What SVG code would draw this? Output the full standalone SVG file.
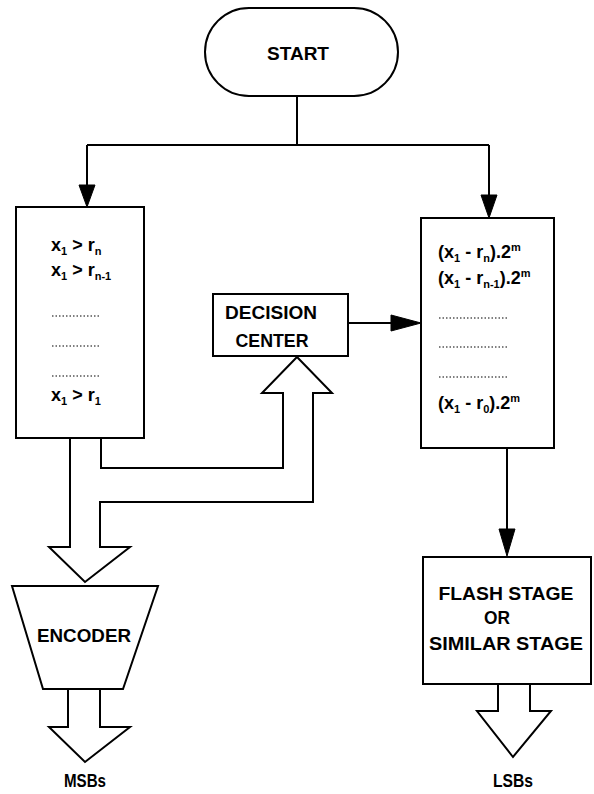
<svg xmlns="http://www.w3.org/2000/svg" width="594" height="794" viewBox="0 0 594 794">
<style>
.s{fill:none;stroke:#000;stroke-width:2;stroke-linejoin:miter}
.b{fill:#fff;stroke:#000;stroke-width:2}
.t{font-family:"Liberation Sans","DejaVu Sans",sans-serif;font-weight:bold;font-size:19px;fill:#000}
.m{font-family:"Liberation Sans","DejaVu Sans",sans-serif;font-weight:bold;font-size:18px;fill:#000}
.sub{font-size:11px}
.d{stroke:#000;stroke-width:1.2;stroke-dasharray:1.5 2}
.ah{fill:#000;stroke:#000;stroke-width:1}
</style>
<g id="connectors">
<path class="s" d="M297,96 V145 M87,145 H489 M87,145 V186 M489,145 V196"/>
<polygon class="ah" points="79,185 95,185 87,207"/>
<polygon class="ah" points="481,195 497,195 489,218"/>
<path class="s" d="M348,323 H394"/>
<polygon class="ah" points="391,315 421,323 391,331"/>
<path class="s" d="M507,448 V530"/>
<polygon class="ah" points="499,529 515,529 507,556"/>
<path class="s" d="M70,438 V547 H49 L85,582 L130,547 H100 V502 H313 V393 H332 L297,357 L262,393 H283 V468 H101 V438"/>
<path class="s" d="M68,689 V727 H49 L85,762 L130,727 H100 V689"/>
<path class="s" d="M498,684 V711 H477 L513,757 L551,711 H530 V684"/>
</g>
<g id="start">
<rect class="b" x="205" y="8" width="193" height="88" rx="44" ry="44"/>
<text class="t" x="298" y="60" text-anchor="middle" textLength="62" lengthAdjust="spacingAndGlyphs">START</text>
</g>
<g id="comparators">
<rect class="b" x="16" y="207" width="128" height="231"/>
<text class="m" x="51" y="251">x<tspan class="sub" dy="4">1</tspan><tspan dy="-4"> &gt; r</tspan><tspan class="sub" dy="4">n</tspan></text>
<text class="m" x="51" y="276">x<tspan class="sub" dy="4">1</tspan><tspan dy="-4"> &gt; r</tspan><tspan class="sub" dy="4">n-1</tspan></text>
<line class="d" x1="52" y1="316" x2="100" y2="316"/>
<line class="d" x1="52" y1="346" x2="100" y2="346"/>
<line class="d" x1="52" y1="376" x2="100" y2="376"/>
<text class="m" x="51" y="401">x<tspan class="sub" dy="4">1</tspan><tspan dy="-4"> &gt; r</tspan><tspan class="sub" dy="4">1</tspan></text>
</g>
<g id="decision">
<rect class="b" x="213" y="294" width="135" height="62"/>
<text class="t" x="271" y="319" text-anchor="middle" textLength="92" lengthAdjust="spacingAndGlyphs">DECISION</text>
<text class="t" x="272" y="347" text-anchor="middle" textLength="73" lengthAdjust="spacingAndGlyphs">CENTER</text>
</g>
<g id="residues">
<rect class="b" x="421" y="218" width="133" height="230"/>
<text class="m" x="438" y="258">(x<tspan class="sub" dy="4">1</tspan><tspan dy="-4"> - r</tspan><tspan class="sub" dy="4">n</tspan><tspan dy="-4">).2</tspan><tspan class="sub" dy="-7">m</tspan></text>
<text class="m" x="438" y="284">(x<tspan class="sub" dy="4">1</tspan><tspan dy="-4"> - r</tspan><tspan class="sub" dy="4">n-1</tspan><tspan dy="-4">).2</tspan><tspan class="sub" dy="-7">m</tspan></text>
<line class="d" x1="439" y1="318" x2="508" y2="318"/>
<line class="d" x1="439" y1="347" x2="508" y2="347"/>
<line class="d" x1="439" y1="377" x2="508" y2="377"/>
<text class="m" x="438" y="409">(x<tspan class="sub" dy="4">1</tspan><tspan dy="-4"> - r</tspan><tspan class="sub" dy="4">0</tspan><tspan dy="-4">).2</tspan><tspan class="sub" dy="-7">m</tspan></text>
</g>
<g id="encoder">
<polygon class="b" points="12,586 158,586 123,689 43,689"/>
<text class="t" x="84" y="642" text-anchor="middle" textLength="94" lengthAdjust="spacingAndGlyphs">ENCODER</text>
</g>
<g id="flash">
<rect class="b" x="423" y="557" width="168" height="127"/>
<text class="t" x="506" y="600" text-anchor="middle" textLength="135" lengthAdjust="spacingAndGlyphs">FLASH STAGE</text>
<text class="t" x="497" y="624" text-anchor="middle" textLength="26" lengthAdjust="spacingAndGlyphs">OR</text>
<text class="t" x="506" y="650" text-anchor="middle" textLength="154" lengthAdjust="spacingAndGlyphs">SIMILAR STAGE</text>
</g>
<g id="msbs">
<text class="t" x="85" y="787" text-anchor="middle" textLength="42" lengthAdjust="spacingAndGlyphs">MSBs</text>
</g>
<g id="lsbs">
<text class="t" x="513" y="787" text-anchor="middle" textLength="40" lengthAdjust="spacingAndGlyphs">LSBs</text>
</g>
</svg>
